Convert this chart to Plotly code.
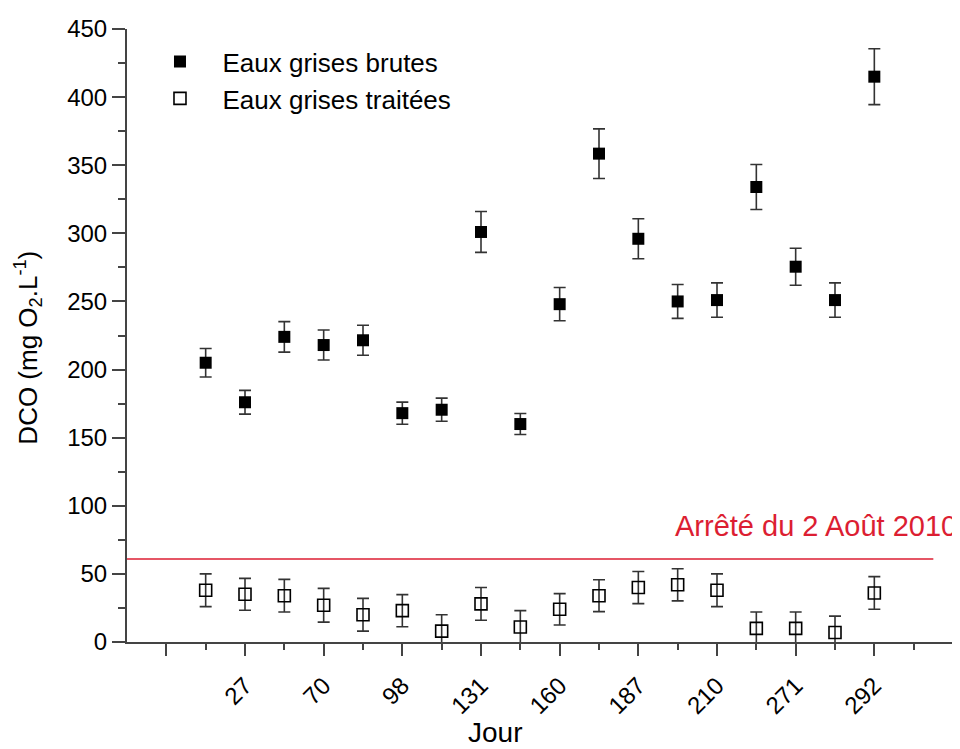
import plotly.graph_objects as go

# ---- data ----
sample_index = list(range(2, 20))  # sampling order along the x axis
brutes = [205, 176, 224, 218, 221.5, 168, 170.5, 301, 160, 248, 358.5, 296, 250, 251, 334, 275.5, 251, 415]
brutes_err = [10.5, 8.7, 11.2, 11, 11, 8.1, 8.5, 15, 7.7, 12.2, 18.2, 14.7, 12.4, 12.6, 16.5, 13.6, 12.6, 20.5]
traitees = [38, 35, 34, 27, 20, 23, 8, 28, 11, 24, 34, 40, 42, 38, 10, 10, 7, 36]
traitees_err = [12, 11.7, 12, 12.4, 12, 11.8, 12, 12, 12, 11.5, 11.7, 11.8, 11.8, 12, 12, 12, 12, 12]
tick_labels = ["", "27", "70", "98", "131", "160", "187", "210", "271", "292", ""]
tick_positions = list(range(1, 22, 2))
minor_positions = list(range(2, 21, 2))
limit_value = 61
limit_label = "Arrêté du 2 Août 2010"

FONT = "Liberation Sans, Arial, sans-serif"
AX = "#444444"
RED = "#dc1e32"

fig = go.Figure()
fig.add_trace(go.Scatter(
    x=sample_index, y=brutes, mode="markers", name="Eaux grises brutes",
    marker=dict(symbol="square", size=12, color="black", line=dict(width=0)),
    error_y=dict(type="data", array=brutes_err, visible=True, color="#333333", thickness=1.6, width=6),
    cliponaxis=False,
))
fig.add_trace(go.Scatter(
    x=sample_index, y=traitees, mode="markers", name="Eaux grises traitées",
    marker=dict(symbol="square-open", size=12, color="black", line=dict(width=1.6)),
    error_y=dict(type="data", array=traitees_err, visible=True, color="#333333", thickness=1.6, width=6),
    cliponaxis=False,
))

fig.add_shape(type="line", xref="x", yref="y", x0=0, x1=20.5, y0=limit_value, y1=limit_value,
              line=dict(color=RED, width=1.5))
fig.add_annotation(x=13.88, y=85, xref="x", yref="y", text=limit_label, showarrow=False,
                   xanchor="left", yanchor="middle", font=dict(family=FONT, size=29, color=RED))

fig.add_annotation(x=-0.12, y=0.48, xref="paper", yref="paper", textangle=-90,
                   text="DCO (mg O<sub>2</sub>.L<sup>-1</sup>)", showarrow=False,
                   xanchor="center", yanchor="middle", font=dict(family=FONT, size=26, color="black"))
fig.add_annotation(x=0.4455, y=-0.148, xref="paper", yref="paper", text="Jour", showarrow=False,
                   xanchor="center", yanchor="middle", font=dict(family=FONT, size=28, color="black"))

fig.update_xaxes(
    range=[0, 21], showgrid=False, zeroline=False, showline=True, linecolor=AX, linewidth=2,
    tickmode="array", tickvals=tick_positions, ticktext=tick_labels, tickangle=-45,
    ticks="outside", ticklen=12, tickwidth=2, tickcolor=AX,
    tickfont=dict(family=FONT, size=24, color="black"), ticklabelstandoff=6,
    minor=dict(tickmode="array", tickvals=minor_positions, ticks="outside", ticklen=6, tickwidth=2, tickcolor=AX),
)
fig.update_yaxes(
    range=[0, 450], showgrid=False, zeroline=False, showline=True, linecolor=AX, linewidth=2,
    tickmode="linear", tick0=0, dtick=50,
    ticks="outside", ticklen=13, tickwidth=2, tickcolor=AX,
    tickfont=dict(family=FONT, size=24, color="black"),
    minor=dict(tickmode="linear", tick0=25, dtick=50, ticks="outside", ticklen=7, tickwidth=2, tickcolor=AX),
)

# the page adds an 8px body margin, so the figure is sized to sit inside the 960x749 window
fig.update_layout(
    width=952, height=741,
    margin=dict(l=119, r=7, t=17, b=107),
    paper_bgcolor="white", plot_bgcolor="white",
    showlegend=True,
    legend=dict(x=0.0127, y=0.985, xanchor="left", yanchor="top", bgcolor="rgba(0,0,0,0)",
                font=dict(family=FONT, size=26, color="black"), itemwidth=75, tracegroupgap=0),
)

fig.write_html("out.html")
